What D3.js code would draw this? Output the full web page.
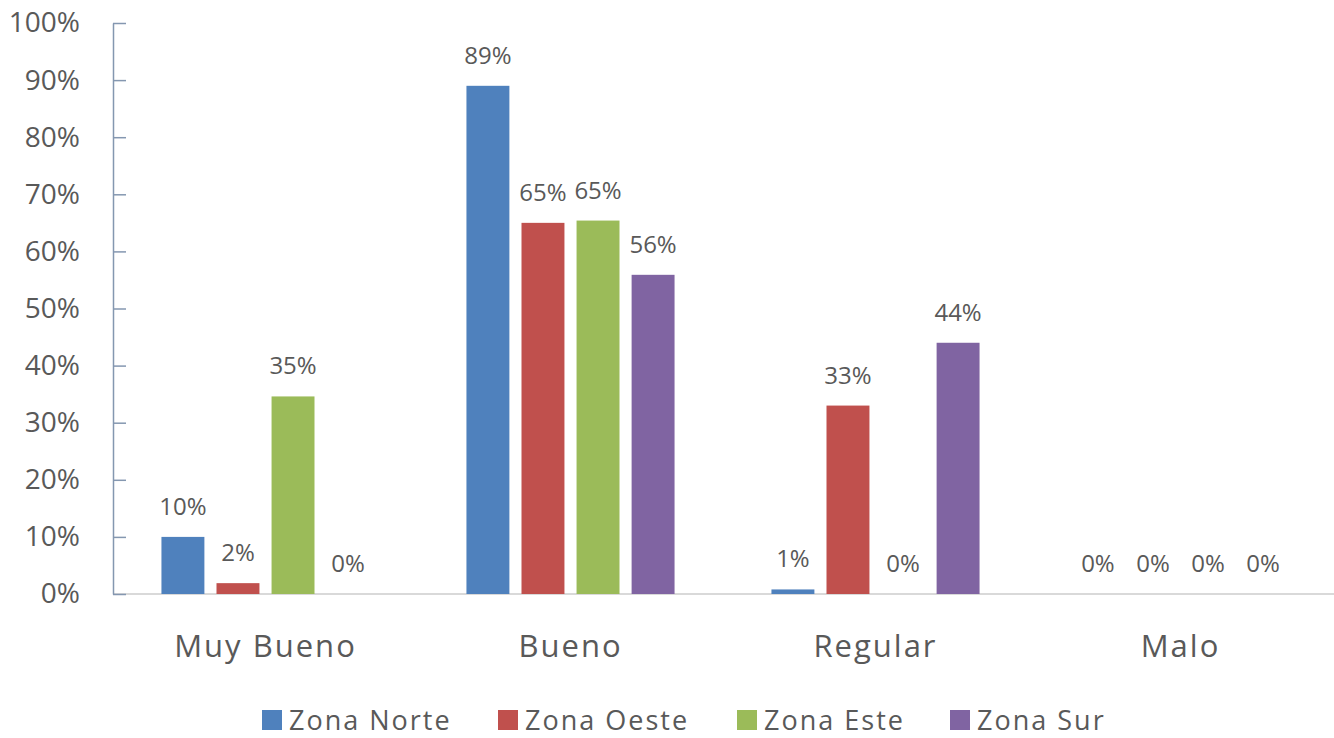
<!DOCTYPE html>
<html>
<head>
<meta charset="utf-8">
<script src="https://cdn.jsdelivr.net/npm/d3@7"></script>
<style>
  body { margin: 0; background: #fff; }
  text { font-family: "Open Sans", "Noto Sans", sans-serif; fill: #595959; }
</style>
</head>
<body>
<div id="chart"></div>
<script>
// data
const categories = ["Muy Bueno", "Bueno", "Regular", "Malo"];
const series = ["Zona Norte", "Zona Oeste", "Zona Este", "Zona Sur"];
const zonaNorte = [0.10, 0.89, 0.008, 0];
const zonaOeste = [0.019, 0.65, 0.33, 0];
const zonaEste = [0.346, 0.654, 0, 0];
const zonaSur = [0, 0.559, 0.44, 0];
const yTicks = [0, 0.1, 0.2, 0.3, 0.4, 0.5, 0.6, 0.7, 0.8, 0.9, 1];
const colors = ["#4f81bd", "#c0504d", "#9bbb59", "#8064a2"];

const allValues = [zonaNorte, zonaOeste, zonaEste, zonaSur];
const W = 1334, H = 738;

const svg = d3.select("#chart").append("svg")
  .attr("width", W).attr("height", H);

const y = d3.scaleLinear().domain([0, 1]).range([594, 23]);

const x0 = d3.scaleBand().domain(categories).range([113, 1333]);
const x1 = d3.scaleBand().domain(series)
  .range([0, x0.bandwidth()])
  .paddingInner(0.22).paddingOuter(0.88);

// x axis baseline
svg.append("line")
  .attr("x1", 113).attr("x2", W)
  .attr("y1", y(0)).attr("y2", y(0))
  .attr("stroke", "#d9d9d9").attr("stroke-width", 2);

// y axis
const yAxis = svg.append("g")
  .attr("transform", "translate(113,0)")
  .call(d3.axisLeft(y).tickValues(yTicks).tickFormat(d3.format(".0%"))
    .tickSizeInner(-13).tickSizeOuter(0).tickPadding(33));
yAxis.select(".domain").attr("stroke", "#8497b0").attr("stroke-width", 1.5);
yAxis.selectAll(".tick line").attr("stroke", "#8497b0").attr("stroke-width", 1.5);
yAxis.selectAll(".tick text")
  .style("font-size", "28px").attr("fill", "#595959");

// bars
const groups = svg.selectAll(".cat")
  .data(categories)
  .enter().append("g")
    .attr("transform", d => "translate(" + x0(d) + ",0)");

groups.selectAll("rect")
  .data((d, i) => series.map((s, j) => ({ s: s, v: allValues[j][i], c: colors[j] })))
  .enter().append("rect")
    .attr("x", d => x1(d.s))
    .attr("y", d => y(d.v))
    .attr("width", x1.bandwidth())
    .attr("height", d => y(0) - y(d.v))
    .attr("fill", d => d.c);

groups.selectAll(".lbl")
  .data((d, i) => series.map((s, j) => ({ s: s, v: allValues[j][i] })))
  .enter().append("text")
    .attr("class", "lbl")
    .attr("x", d => x1(d.s) + x1.bandwidth() / 2)
    .attr("y", d => y(d.v) - 22)
    .attr("text-anchor", "middle")
    .style("font-size", "24px")
    .text(d => Math.round(d.v * 100) + "%");

// category labels
svg.selectAll(".cat-label")
  .data(categories)
  .enter().append("text")
    .attr("x", d => x0(d) + x0.bandwidth() / 2)
    .attr("y", 657)
    .attr("text-anchor", "middle")
    .style("font-size", "31px")
    .style("letter-spacing", "2px")
    .text(d => d);

// legend
const legendX = [262, 498, 737, 950];
const legend = svg.selectAll(".leg")
  .data(series)
  .enter().append("g")
    .attr("transform", (d, i) => "translate(" + legendX[i] + ",710)");
legend.append("rect")
  .attr("width", 20).attr("height", 20).attr("y", 0)
  .attr("fill", (d, i) => colors[i]);
legend.append("text")
  .attr("x", 27).attr("y", 20)
  .style("font-size", "27px")
  .style("letter-spacing", "2px")
  .text(d => d);
</script>
</body>
</html>
